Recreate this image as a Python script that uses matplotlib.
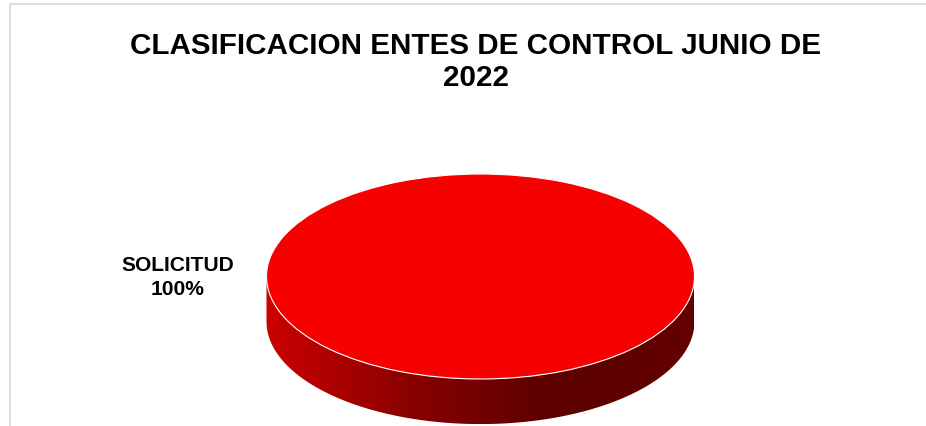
import matplotlib.pyplot as plt
import numpy as np
from matplotlib.path import Path
from matplotlib.patches import PathPatch
from matplotlib.lines import Line2D
from matplotlib.colors import LinearSegmentedColormap

plt.rcParams['font.family'] = ['Liberation Sans', 'DejaVu Sans']

categories = ['SOLICITUD']
values = [100]
title = 'CLASIFICACION ENTES DE CONTROL JUNIO DE\n2022'
top_color = '#f70000'
side_colors = ['#cc0000', '#8a0000', '#5c0000', '#640000']

fig = plt.figure(figsize=(9.26, 4.27), dpi=100)
ax = fig.add_axes([0, 0, 1, 1])

pcts = [v / sum(values) * 100 for v in values]
labels = [f'{c}\n{p:.0f}%' for c, p in zip(categories, pcts)]

wedges, texts = ax.pie(values, labels=labels, colors=[top_color], startangle=0,
                       labeldistance=1.416,
                       wedgeprops=dict(edgecolor='white', linewidth=0.8),
                       textprops=dict(fontsize=15.1, fontweight='bold', ha='center',
                                      va='center', linespacing=1.3))

# side of the "3d" pie, under the top face
depth = 0.44
t = np.linspace(np.pi, 2 * np.pi, 200)
xs = np.concatenate([np.cos(t), np.cos(t[::-1])])
ys = np.concatenate([np.sin(t), np.sin(t[::-1]) - depth])
side = PathPatch(Path(np.column_stack([xs, ys])), facecolor='none', edgecolor='none')
ax.add_patch(side)
cmap = LinearSegmentedColormap.from_list('side', side_colors)
grad = np.linspace(0, 1, 256).reshape(1, -1)
img = ax.imshow(grad, cmap=cmap, extent=(-1, 1, -1 - depth, 0), aspect='auto', zorder=0)
img.set_clip_path(side)

ax.set_aspect('auto')
ax.set_xlim(-480.5 / 214, (926 - 480.5) / 214)
ax.set_ylim((277.5 - 427) / 102.5, 277.5 / 102.5)
ax.axis('off')

fig.text(475.5 / 926, 1 - 32 / 427, title, ha='center', va='top', fontsize=21.3,
         fontweight='bold', linespacing=1.18)

# chart area border (cropped)
fig.add_artist(Line2D([10 / 926, 1], [1 - 5 / 427] * 2, transform=fig.transFigure,
                      color='#d9d9d9', linewidth=1.3))
fig.add_artist(Line2D([10 / 926] * 2, [0, 1 - 5 / 427], transform=fig.transFigure,
                      color='#d9d9d9', linewidth=1.3))

fig.savefig('out.png', dpi=100)
